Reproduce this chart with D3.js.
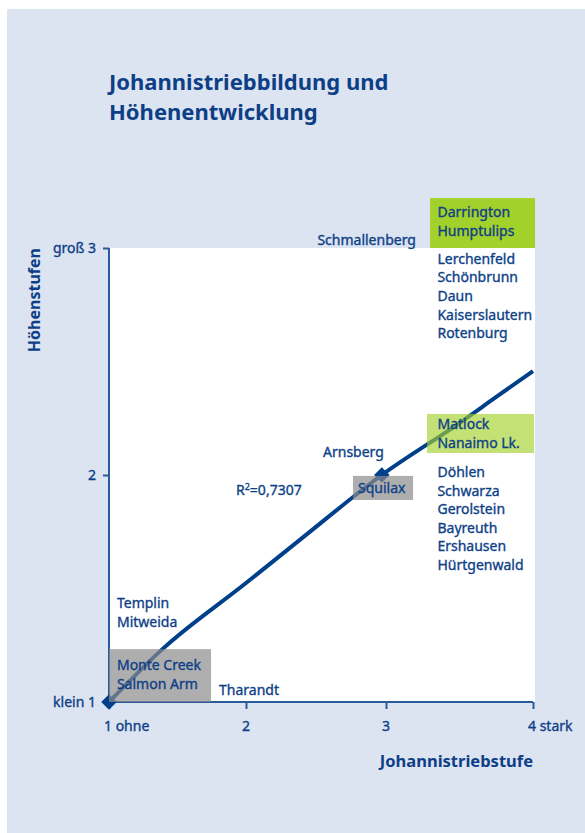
<!DOCTYPE html>
<html>
<head>
<meta charset="utf-8">
<script src="https://cdn.jsdelivr.net/npm/d3@7"></script>
<style>
    body { margin: 0; background: #ffffff; }
    svg { display: block; }
    text { font-family: "Noto Sans", sans-serif; fill: #0d3f87; stroke: #0d3f87; stroke-width: 0.35px; }
    text.bold { stroke-width: 0; font-weight: bold; }
</style>
</head>
<body>
<div id="chart"></div>
<script>
// Stufen der Achsen
var xTicks = [1, 2, 3, 4];
var xTickLabels = ["1 ohne", "2", "3", "4 stark"];
var yTicks = [1, 2, 3];
var yTickLabels = ["klein 1", "2", "groß 3"];

// Trendlinie
var trendX = [1, 1.39, 2, 2.4, 2.97, 3.5, 3.75, 4];
var trendY = [1, 1.233, 1.524, 1.722, 2.0, 2.229, 2.344, 2.458];

// markierte Punkte
var pointX = [1, 2.97];
var pointY = [1, 2.0];

// Herkünfte, gruppiert, mit Lage der Beschriftung in Achseneinheiten
var groups = [
    ["Schmallenberg"],
    ["Darrington", "Humptulips"],
    ["Lerchenfeld", "Schönbrunn", "Daun", "Kaiserslautern", "Rotenburg"],
    ["Matlock", "Nanaimo Lk."],
    ["Döhlen", "Schwarza", "Gerolstein", "Bayreuth", "Ershausen", "Hürtgenwald"],
    ["Arnsberg"],
    ["Squilax"],
    ["Templin", "Mitweida"],
    ["Monte Creek", "Salmon Arm"],
    ["Tharandt"]
];
var groupX = [2.51, 3.35, 3.35, 3.35, 3.35, 2.55, 2.8, 1.058, 1.058, 1.803];
var groupY = [3.013, 3.137, 2.93, 2.203, 1.991, 2.079, 1.921, 1.414, 1.141, 1.031];

// hinterlegte Bereiche
var boxKind = ["kueste", "kueste2", "inland", "inland"];
var boxX0 = [3.30, 3.279, 2.764, 1.0];
var boxX1 = [4.014, 4.007, 3.184, 1.745];
var boxY0 = [3.0, 2.097, 1.89, 1.0];
var boxY1 = [3.22, 2.269, 1.996, 1.233];

var rSquared = "0,7307";

var width = 585, height = 833;

var svg = d3.select("#chart").append("svg")
    .attr("width", width)
    .attr("height", height);

svg.append("rect")
    .attr("x", 7).attr("y", 9)
    .attr("width", width - 7).attr("height", height - 9)
    .attr("fill", "#dce3f1");

var x = d3.scaleLinear().domain(xTicks).range([109, 246, 386, 533]);
var y = d3.scaleLinear().domain([1, 3]).range([702, 248]);

// Titel
var title = svg.append("text")
    .attr("class", "bold")
    .attr("x", 109).attr("y", 90)
    .style("font-size", "22px");
title.append("tspan").attr("x", 109).text("Johannistriebbildung und");
title.append("tspan").attr("x", 109).attr("dy", 30).text("Höhenentwicklung");

// Zeichenfläche
svg.append("rect")
    .attr("x", x(1)).attr("y", y(3))
    .attr("width", x(4) - x(1) + 2)
    .attr("height", y(1) - y(3))
    .attr("fill", "#ffffff");

// Achsen
var xAxis = d3.axisBottom(x).tickValues(xTicks).tickSize(7).tickFormat("");
var yAxis = d3.axisLeft(y).tickValues(yTicks.slice(1)).tickSize(6).tickFormat("");

var gx = svg.append("g")
    .attr("transform", "translate(0," + y(1) + ")")
    .call(xAxis);
var gy = svg.append("g")
    .attr("transform", "translate(" + x(1) + ",0)")
    .call(yAxis);
[gx, gy].forEach(function(g) {
    g.select(".domain").attr("stroke", "#2b5a9a").attr("stroke-width", 2);
    g.selectAll(".tick line").attr("stroke", "#2b5a9a").attr("stroke-width", 2);
});
gy.select(".domain").attr("d", "M0," + y(3) + "V" + y(1));
gx.select(".domain").attr("d", "M" + x(1) + ",0H" + x(4));

svg.selectAll(".xlab")
    .data(xTicks)
    .enter().append("text")
    .attr("class", "xlab")
    .attr("x", function(d) { return x(d) - (d == 1 || d == 4 ? 5 : 0); })
    .attr("y", y(1) + 29)
    .attr("text-anchor", function(d) { return (d == 1 || d == 4) ? "start" : "middle"; })
    .style("font-size", "14px")
    .text(function(d, i) { return xTickLabels[i]; });

svg.selectAll(".ylab")
    .data(yTicks)
    .enter().append("text")
    .attr("class", "ylab")
    .attr("x", 96)
    .attr("y", function(d) { return y(d) + 5; })
    .attr("text-anchor", "end")
    .style("font-size", "14px")
    .text(function(d, i) { return yTickLabels[i]; });

svg.append("text")
    .attr("class", "bold")
    .attr("transform", "translate(40," + y(3) + ") rotate(-90)")
    .attr("text-anchor", "end")
    .style("font-size", "16px")
    .text("Höhenstufen");

svg.append("text")
    .attr("class", "bold")
    .attr("x", x(4)).attr("y", 767)
    .attr("text-anchor", "end")
    .style("font-size", "16.5px")
    .text("Johannistriebstufe");

// Trendlinie
var trend = trendX.map(function(d, i) { return [d, trendY[i]]; });
svg.append("path")
    .datum(trend)
    .attr("fill", "none")
    .attr("stroke", "#003f8a")
    .attr("stroke-width", 4)
    .attr("d", d3.line()
        .x(function(d) { return x(d[0]); })
        .y(function(d) { return y(d[1]); })
        .curve(d3.curveMonotoneX));

svg.selectAll(".pt")
    .data(pointX)
    .enter().append("path")
    .attr("class", "pt")
    .attr("transform", function(d, i) {
        return "translate(" + x(d) + "," + y(pointY[i]) + ") rotate(45)";
    })
    .attr("d", d3.symbol().type(d3.symbolSquare).size(120))
    .attr("fill", "#003f8a");

// Hinterlegungen
var boxFill = { kueste: "#a3d12b", kueste2: "#a3d12b", inland: "#8c8c8c" };
var boxOpacity = { kueste: 1, kueste2: 0.65, inland: 0.7 };
svg.selectAll(".box")
    .data(boxKind)
    .enter().append("rect")
    .attr("class", "box")
    .attr("x", function(d, i) { return x(boxX0[i]); })
    .attr("y", function(d, i) { return y(boxY1[i]); })
    .attr("width", function(d, i) { return x(boxX1[i]) - x(boxX0[i]); })
    .attr("height", function(d, i) { return y(boxY0[i]) - y(boxY1[i]); })
    .attr("fill", function(d) { return boxFill[d]; })
    .attr("fill-opacity", function(d) { return boxOpacity[d]; });

// Beschriftungen
var labels = svg.selectAll(".grp")
    .data(groups)
    .enter().append("text")
    .attr("class", "grp")
    .attr("x", function(d, i) { return x(groupX[i]); })
    .attr("y", function(d, i) { return y(groupY[i]); })
    .style("font-size", "14px");
labels.selectAll("tspan")
    .data(function(d, i) { return d.map(function(n) { return { n: n, i: i }; }); })
    .enter().append("tspan")
    .attr("x", function(d) { return x(groupX[d.i]); })
    .attr("dy", function(d, j) { return j == 0 ? 0 : 18.6; })
    .text(function(d) { return d.n; });

var r2 = svg.append("text")
    .attr("x", x(1.927)).attr("y", y(1.912))
    .style("font-size", "14px");
r2.append("tspan").text("R");
r2.append("tspan").attr("dy", -5).style("font-size", "9px").text("2");
r2.append("tspan").attr("dy", 5).text("=" + rSquared);
</script>
</body>
</html>
